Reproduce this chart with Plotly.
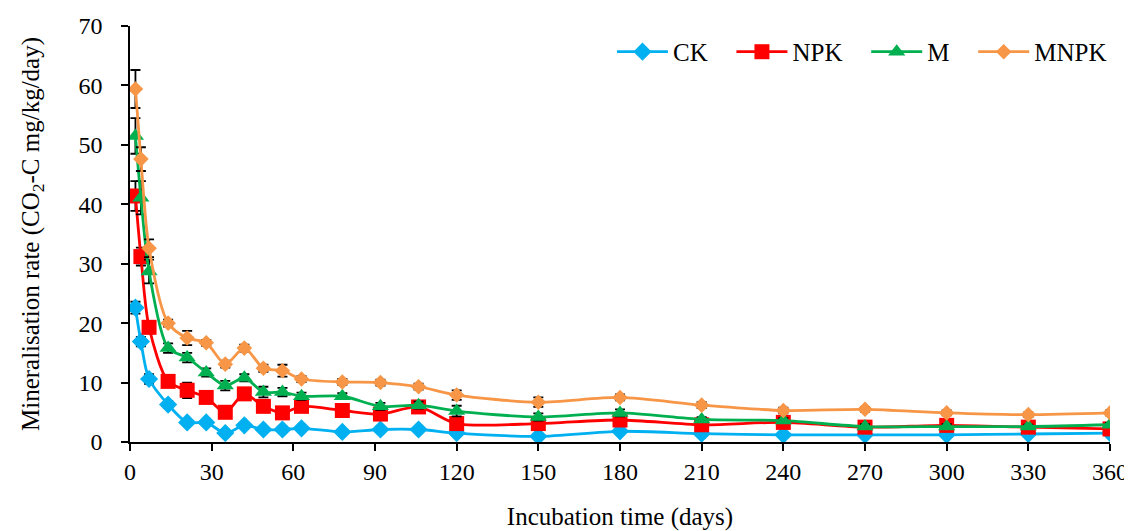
import plotly.graph_objects as go

days = [2, 4, 7, 14, 21, 28, 35, 42, 49, 56, 63, 78, 92, 106, 120, 150, 180, 210, 240, 270, 300, 330, 360]

ck = [22.6, 16.9, 10.6, 6.3, 3.3, 3.3, 1.5, 2.8, 2.1, 2.1, 2.3, 1.7, 2.1, 2.1, 1.5, 0.95, 1.8, 1.4, 1.2, 1.2, 1.2, 1.35, 1.5]
npk = [41.4, 31.2, 19.3, 10.2, 8.7, 7.5, 5.0, 8.1, 6.0, 4.9, 6.0, 5.3, 4.7, 5.9, 3.1, 3.1, 3.7, 2.9, 3.3, 2.5, 2.8, 2.5, 2.2]
m = [51.5, 41.1, 28.7, 15.8, 14.2, 11.7, 9.5, 10.8, 8.4, 8.4, 7.7, 7.7, 6.0, 6.2, 5.2, 4.2, 4.9, 3.8, 3.6, 2.6, 2.6, 2.6, 2.9]
mnpk = [59.4, 47.6, 32.6, 20.0, 17.5, 16.7, 13.1, 15.8, 12.4, 12.0, 10.6, 10.1, 10.0, 9.3, 7.9, 6.7, 7.5, 6.2, 5.3, 5.5, 4.9, 4.6, 4.9]

ck_err = [1.0, 0.8, 0.8, 0.6, 0.4, 0.4, 0.3, 0.3, 0.3, 0.3, 0.3, 0.2, 0.2, 0.2, 0.2, 0.2, 0.2, 0.2, 0.2, 0.2, 0.2, 0.2, 0.2]
npk_err = [2.5, 1.5, 1.0, 0.8, 1.3, 0.8, 0.5, 0.8, 0.5, 0.5, 0.5, 0.4, 0.4, 0.4, 0.4, 0.4, 0.4, 0.3, 0.3, 0.3, 0.3, 0.3, 0.3]
m_err = [3.0, 2.8, 2.0, 0.8, 0.8, 0.7, 0.8, 0.6, 0.9, 0.7, 0.6, 0.5, 0.6, 0.6, 0.9, 0.6, 0.6, 0.4, 0.4, 0.4, 0.4, 0.3, 0.3]
mnpk_err = [3.2, 2.0, 1.5, 0.6, 1.2, 0.5, 0.6, 0.6, 0.6, 1.0, 0.5, 0.5, 0.5, 0.5, 0.8, 0.8, 0.5, 0.5, 0.5, 0.4, 0.4, 0.4, 0.4]

x_ticks = [0, 30, 60, 90, 120, 150, 180, 210, 240, 270, 300, 330, 360]
y_ticks = [0, 10, 20, 30, 40, 50, 60, 70]

FONT = "Liberation Serif"
FS = 25

series = [
    ("CK   ", ck, ck_err, "#00B0F0", "diamond", 14),
    ("NPK   ", npk, npk_err, "#FF0000", "square", 15),
    ("M   ", m, m_err, "#00B050", "triangle-up", 15),
    ("MNPK", mnpk, mnpk_err, "#F79646", "diamond", 12),
]

fig = go.Figure()
for name, vals, err, col, sym, sz in series:
    fig.add_trace(go.Scatter(
        x=days, y=vals, name=name, mode="lines+markers",
        line=dict(color=col, width=2.8, shape="spline", smoothing=0.8),
        marker=dict(color=col, symbol=sym, size=sz, line=dict(width=0)),
        error_y=dict(type="data", array=err, visible=True, color="black", thickness=1.8, width=5),
    ))

fig.update_layout(
    width=1124, height=523,
    margin=dict(l=122, r=22, t=18, b=88.5),
    plot_bgcolor="white", paper_bgcolor="white",
    font=dict(family=FONT, size=FS, color="black"),
    legend=dict(orientation="h", x=1.002, xanchor="right", y=0.9376, yanchor="middle",
                font=dict(family=FONT, size=FS), itemwidth=51, bgcolor="rgba(0,0,0,0)",
                traceorder="normal"),
    xaxis=dict(range=[0, 360], tickvals=x_ticks, showgrid=False, zeroline=False,
               showline=True, linecolor="black", linewidth=1.5, automargin=False,
               ticks="outside", ticklen=7, tickcolor="black", tickwidth=1.5,
               tickfont=dict(size=24), ticklabelstandoff=0,
               title=dict(text="Incubation time (days)", standoff=36, font=dict(size=FS))),
    yaxis=dict(range=[0, 70], tickvals=y_ticks, showgrid=False, zeroline=False,
               showline=True, linecolor="black", linewidth=1.5, automargin=False,
               ticks="outside", ticklen=7, tickcolor="black", tickwidth=1.5,
               tickfont=dict(size=24), ticklabelstandoff=14,
               title=dict(text="Mineralisation rate (CO<sub>2</sub>-C mg/kg/day)", standoff=32, font=dict(size=FS))),
    showlegend=True,
)

fig.write_html("out.html")
